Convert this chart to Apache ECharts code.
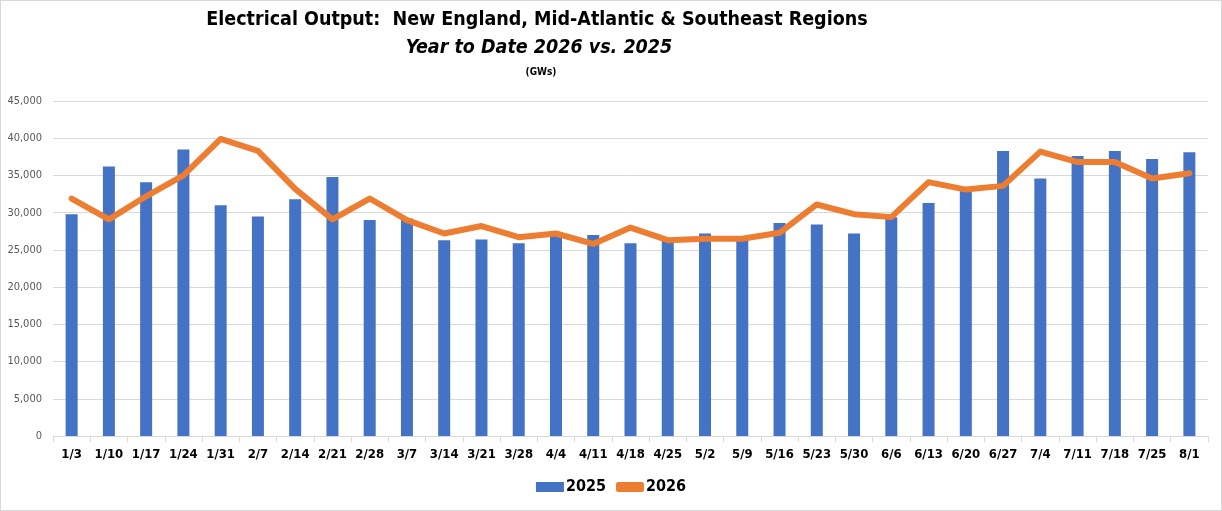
<!DOCTYPE html>
<head>
    <meta charset="utf-8">
    <title>ECharts</title>
    <script src="https://cdn.jsdelivr.net/npm/echarts@6/dist/echarts.min.js"></script>
    <style>
        html, body { margin: 0; padding: 0; background: #fff; }
        #main { width: 1220px; height: 509px; border: 1px solid #d9d9d9; }
    </style>
</head>
<body>
<div id="main"></div>
<script type="text/javascript">
// week labels
var weeks = ['1/3','1/10','1/17','1/24','1/31','2/7','2/14','2/21','2/28','3/7','3/14','3/21','3/28','4/4','4/11','4/18',
             '4/25','5/2','5/9','5/16','5/23','5/30','6/6','6/13','6/20','6/27','7/4','7/11','7/18','7/25','8/1'];
// 2025 (bars), GWs
var out2025 = [29800,36200,34100,38500,31000,29500,31800,34800,29000,29200,26300,26400,25900,26900,27000,25900,
               26200,27200,26300,28600,28400,27200,29400,31300,33000,38300,34600,37600,38300,37200,38100];
// 2026 (line), GWs
var out2026 = [31900,29100,32200,35000,39900,38300,33200,29100,31900,29000,27200,28200,26700,27200,25800,28000,
               26300,26500,26500,27300,31100,29800,29400,34100,33100,33600,38200,36800,36800,34600,35300];
var yTicks = [0,5000,10000,15000,20000,25000,30000,35000,40000,45000];

var font = "'Liberation Sans Narrow', 'DejaVu Sans Condensed', sans-serif";

var myChart = echarts.init(document.getElementById('main'));
var option = {
    backgroundColor: '#fff',
    animation: false,
    title: [
        { text: 'Electrical Output:  New England, Mid-Atlantic & Southeast Regions', left: 531, top: 4, textAlign: 'center',
          textStyle: { fontFamily: font, fontSize: 19.5, fontWeight: 'bold', color: '#000' } },
        { text: 'Year to Date 2026 vs. 2025', left: 533, top: 32, textAlign: 'center',
          textStyle: { fontFamily: font, fontSize: 19.5, fontWeight: 'bold', fontStyle: 'italic', color: '#000' } },
        { text: '(GWs)', left: 535, top: 61, textAlign: 'center',
          textStyle: { fontFamily: font, fontSize: 10, fontWeight: 'bold', color: '#000' } }
    ],
    legend: {
        top: 473,
        left: 'center',
        itemGap: 10,
        itemWidth: 28,
        itemHeight: 10,
        textStyle: { fontFamily: font, fontSize: 16, fontWeight: 'bold', color: '#000', padding: [0, 0, 0, -3] },
        data: [
            { name: '2025', icon: 'rect', itemStyle: { color: '#4472C4' } },
            { name: '2026', icon: 'roundRect', itemStyle: { color: '#ED7D31' } }
        ]
    },
    grid: { left: 52, right: 13, top: 100, bottom: 74, containLabel: false },
    xAxis: {
        type: 'category',
        data: weeks,
        boundaryGap: true,
        axisLine: { lineStyle: { color: '#d9d9d9', width: 1 } },
        axisTick: { show: true, length: 6, lineStyle: { color: '#d9d9d9' } },
        axisLabel: { interval: 0, margin: 12, fontFamily: font, fontSize: 13, fontWeight: 'bold', color: '#000' }
    },
    yAxis: {
        type: 'value',
        min: 0,
        max: 45000,
        interval: 5000,
        axisLine: { show: false },
        axisTick: { show: false },
        splitLine: { lineStyle: { color: '#d9d9d9', width: 1 } },
        axisLabel: {
            margin: 11, fontFamily: font, fontSize: 11, color: '#595959',
            formatter: function (v) { return yTicks.indexOf(v) >= 0 ? v.toLocaleString('en-US') : ''; }
        }
    },
    series: [
        {
            name: '2025',
            type: 'bar',
            data: out2025,
            barWidth: 12,
            itemStyle: { color: '#4472C4' }
        },
        {
            name: '2026',
            type: 'line',
            data: out2026,
            symbol: 'none',
            lineStyle: { color: '#ED7D31', width: 6, cap: 'round', join: 'round' },
            itemStyle: { color: '#ED7D31' }
        }
    ]
};
myChart.setOption(option);
</script>
</body>
